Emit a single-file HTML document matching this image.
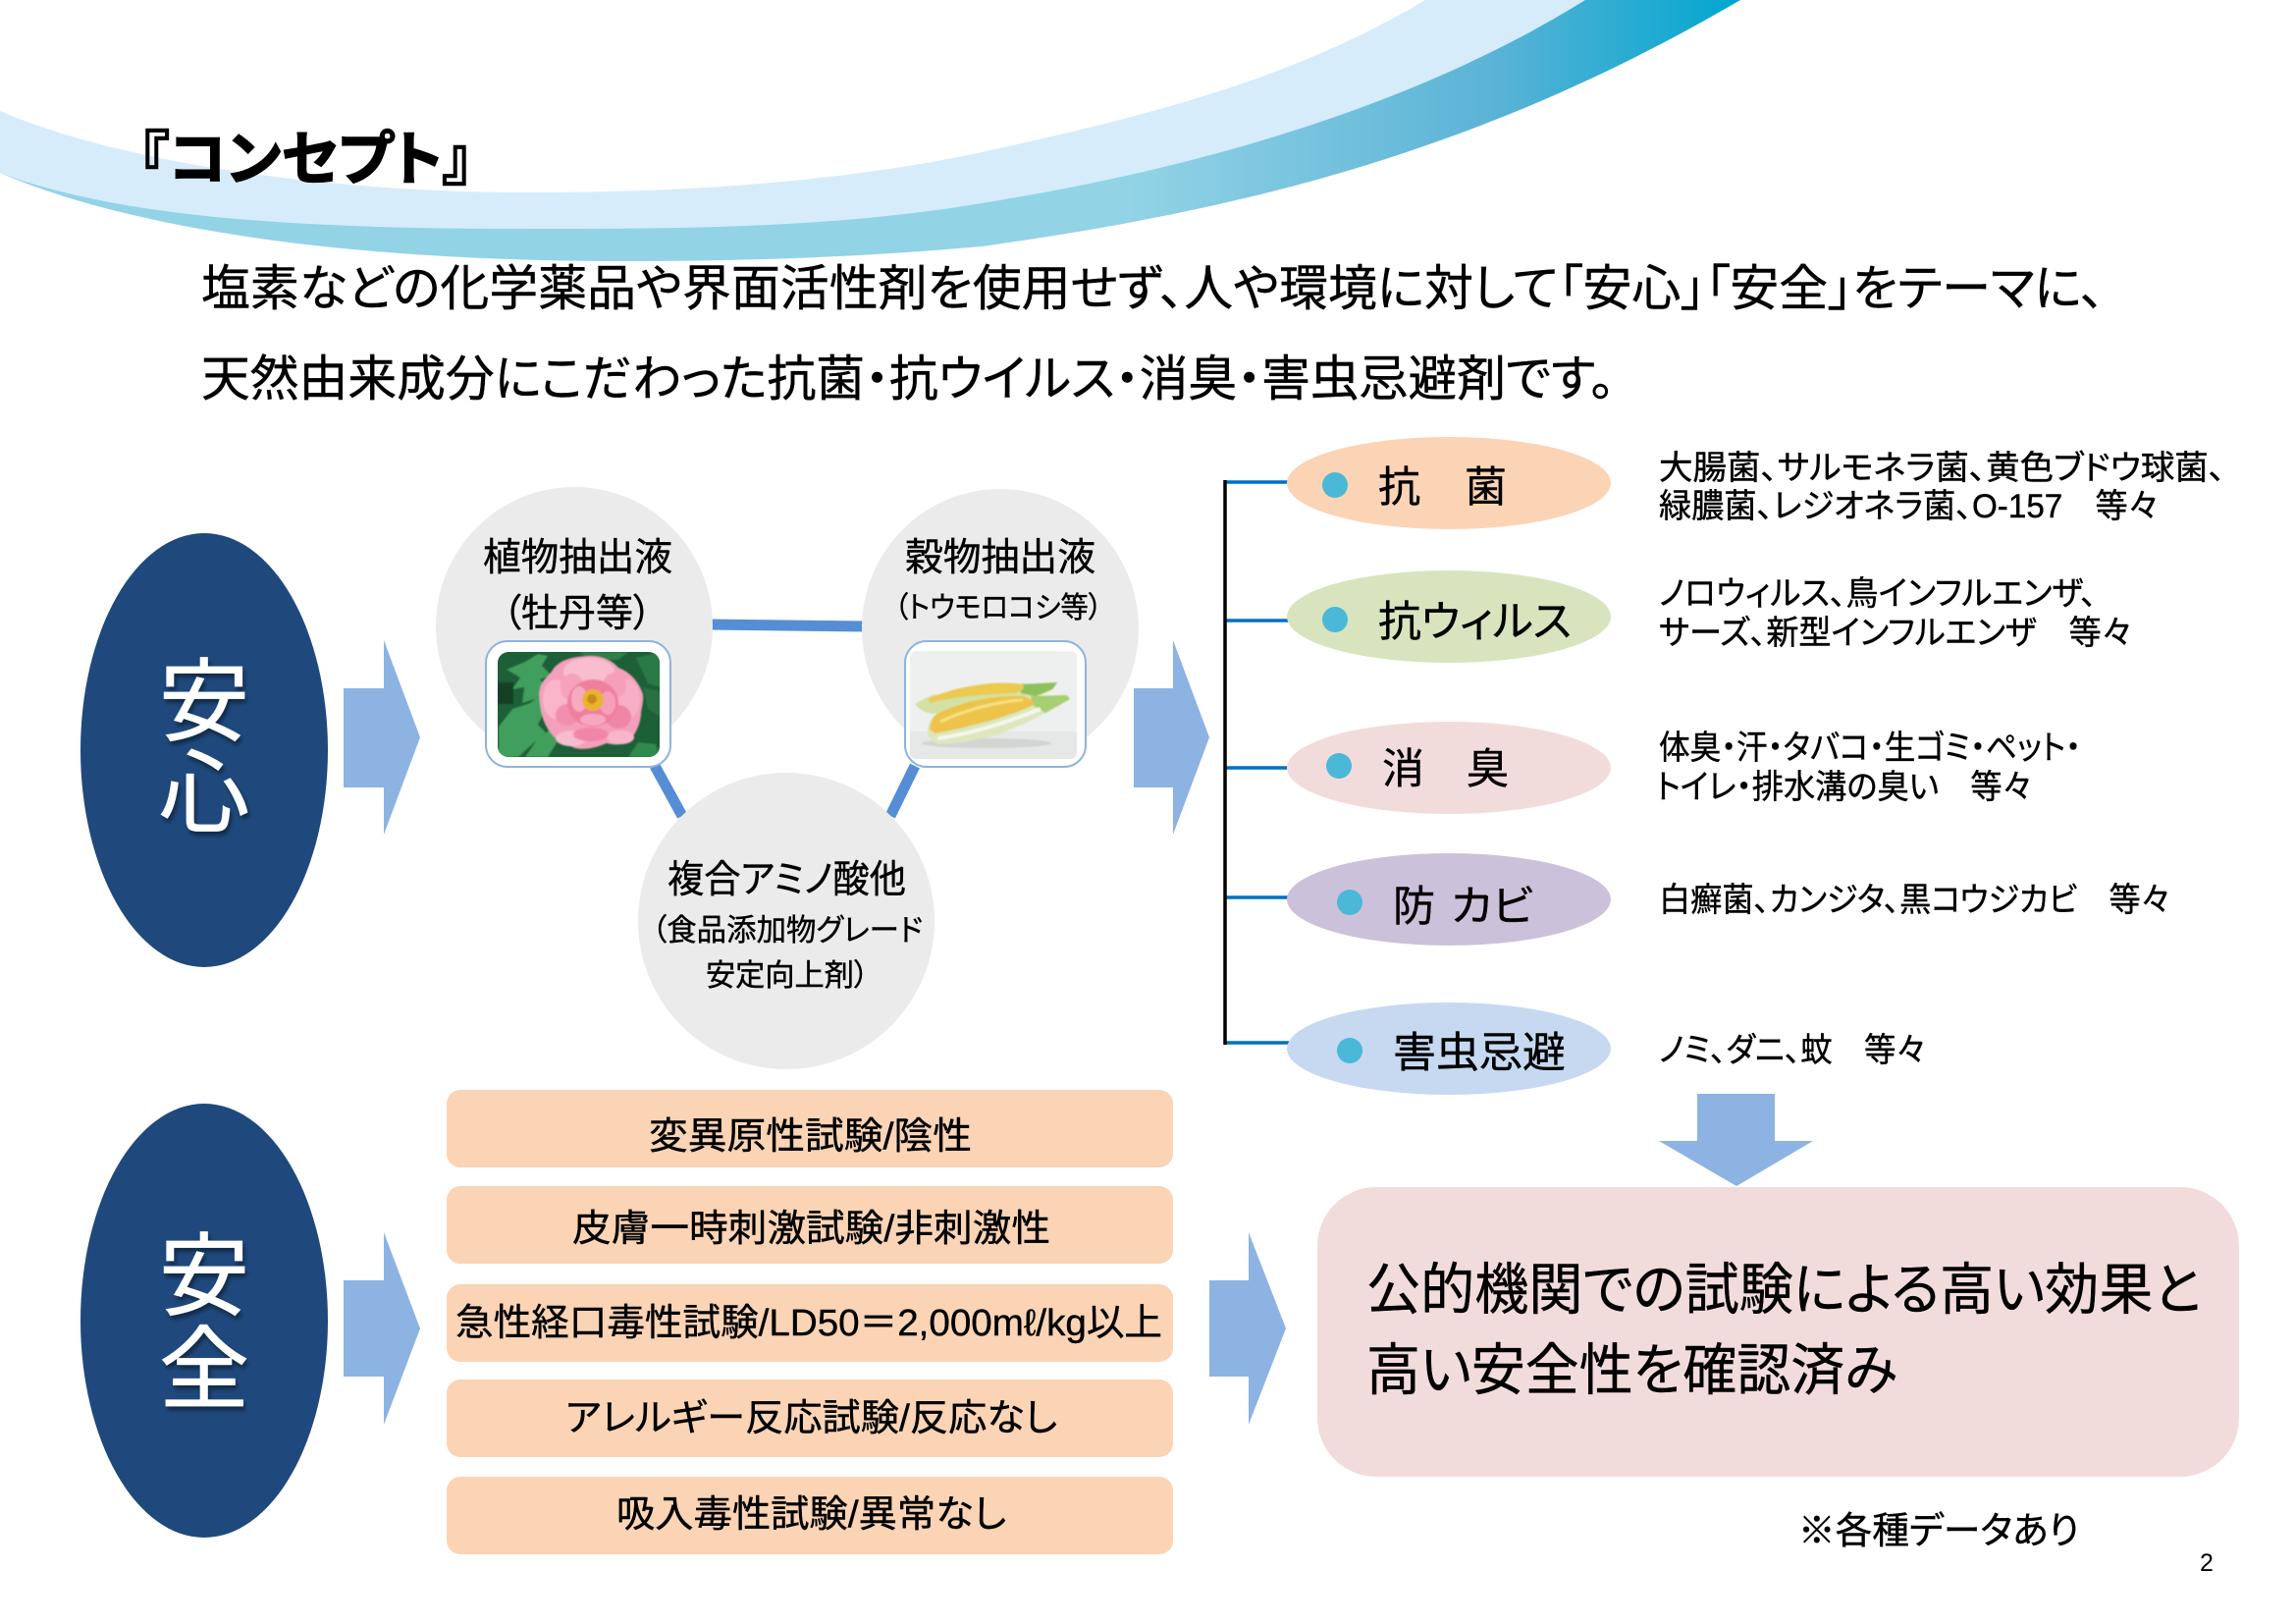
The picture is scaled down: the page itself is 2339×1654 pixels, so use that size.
<!DOCTYPE html>
<html lang="ja">
<head>
<meta charset="utf-8">
<title>コンセプト</title>
<style>
html,body{margin:0;padding:0;background:#fff;width:2339px;height:1654px;overflow:hidden}
svg{display:block}
text{font-family:"Liberation Sans","Noto Sans CJK JP",sans-serif;fill:#000;stroke:#000;stroke-width:.4;font-feature-settings:"palt"}
.w{fill:#fff;stroke:#fff;stroke-width:.8}
</style>
</head>
<body>
<svg width="2339" height="1654" viewBox="0 0 2339 1654" xmlns="http://www.w3.org/2000/svg">
<defs>
<linearGradient id="sw" gradientUnits="userSpaceOnUse" x1="1150" y1="0" x2="1773" y2="0">
<stop offset="0" stop-color="#93d3e6"/><stop offset="0.6" stop-color="#5ab3d6"/><stop offset="1" stop-color="#00a6cf"/>
</linearGradient>
<clipPath id="p1"><rect x="507" y="664" width="165" height="107" rx="11"/></clipPath>
<clipPath id="p2"><rect x="927" y="663" width="170" height="110" rx="6"/></clipPath>
<filter id="b1" x="-10%" y="-10%" width="120%" height="120%"><feGaussianBlur stdDeviation="0.9"/></filter>
<filter id="ts" x="-30%" y="-30%" width="160%" height="160%"><feDropShadow dx="2" dy="4" stdDeviation="2.5" flood-color="#000" flood-opacity="0.45"/></filter>
</defs>

<!-- swoosh -->
<path d="M0,176 C120,228 330,266 638,266 C780,266 900,260 1000,251 C1250,216 1500,160 1773,0 L1550,0 C1400,90 1200,150 1000,180 C800,215 700,215 542,215 C330,215 130,205 0,176 Z" fill="url(#sw)"/>
<path d="M0,113 C120,165 330,196 542,196 C700,196 860,185 1000,155 C1150,122 1310,85 1452,0 L1615,0 C1430,115 1200,175 1000,207 C850,232 700,233 542,233 C330,233 130,225 0,176 Z" fill="#d6ecfa"/>

<!-- title -->
<text x="142" y="183" font-size="60" font-weight="700" textLength="339" lengthAdjust="spacingAndGlyphs" style="stroke-width:1.4">『コンセプト』</text>

<!-- intro -->
<text x="205" y="311" font-size="50" textLength="1939" lengthAdjust="spacingAndGlyphs">塩素などの化学薬品や界面活性剤を使用せず、人や環境に対して「安心」「安全」をテーマに、</text>
<text x="205" y="403" font-size="50" textLength="1440" lengthAdjust="spacingAndGlyphs">天然由来成分にこだわった抗菌・抗ウイルス・消臭・害虫忌避剤です。</text>

<!-- blue ellipses -->
<ellipse cx="208" cy="764" rx="126" ry="221" fill="#1f497d"/>
<ellipse cx="208" cy="1345" rx="126" ry="221" fill="#1f497d"/>
<g filter="url(#ts)">
<text class="w" x="208" y="747" font-size="92" text-anchor="middle">安</text>
<text class="w" x="208" y="840" font-size="92" text-anchor="middle">心</text>
<text class="w" x="208" y="1332" font-size="92" text-anchor="middle">安</text>
<text class="w" x="208" y="1427" font-size="92" text-anchor="middle">全</text>
</g>

<!-- arrows -->
<g fill="#8db3e2">
<polygon points="350,701 391,701 391,652 428,751 391,850 391,802 350,802"/>
<polygon points="1155,701 1195,701 1195,652 1232,751 1195,850 1195,802 1155,802"/>
<polygon points="350,1304 391,1304 391,1255 428,1353 391,1451 391,1402 350,1402"/>
<polygon points="1232,1304 1272,1304 1272,1255 1310,1353 1272,1451 1272,1402 1232,1402"/>
<polygon points="1729,1114 1808,1114 1808,1162 1847,1162 1769,1208 1690,1162 1729,1162"/>
</g>

<!-- connectors -->
<g stroke="#558ed5" fill="none">
<line x1="722" y1="636" x2="882" y2="638" stroke-width="11"/>
<line x1="667" y1="780" x2="695" y2="831" stroke-width="11"/>
<line x1="932" y1="780" x2="907" y2="831" stroke-width="11"/>
</g>

<!-- gray circles -->
<g fill="#ebebeb">
<ellipse cx="585" cy="638" rx="141" ry="142"/>
<ellipse cx="1019" cy="640" rx="141" ry="142"/>
<ellipse cx="801" cy="938" rx="151" ry="151"/>
</g>

<text x="492" y="581" font-size="39" textLength="193" lengthAdjust="spacingAndGlyphs">植物抽出液</text>
<text x="512" y="638" font-size="39" textLength="152" lengthAdjust="spacingAndGlyphs">（牡丹等）</text>
<text x="922" y="581" font-size="39" textLength="194" lengthAdjust="spacingAndGlyphs">穀物抽出液</text>
<text x="911" y="629" font-size="30" textLength="212" lengthAdjust="spacingAndGlyphs">（トウモロコシ等）</text>
<text x="680" y="909" font-size="39" textLength="243" lengthAdjust="spacingAndGlyphs">複合アミノ酸他</text>
<text x="664" y="958" font-size="31" textLength="276" lengthAdjust="spacingAndGlyphs">（食品添加物グレード</text>
<text x="719" y="1004" font-size="31" textLength="166" lengthAdjust="spacingAndGlyphs">安定向上剤）</text>

<!-- photo frames -->
<rect x="495" y="653" width="188" height="128" rx="22" fill="#fff" stroke="#8db3e2" stroke-width="2"/>
<rect x="922" y="653" width="184" height="128" rx="22" fill="#fff" stroke="#8db3e2" stroke-width="2"/>

<!-- peony photo -->
<g clip-path="url(#p1)">
<rect x="507" y="664" width="165" height="107" fill="#1d5f37"/>
<g filter="url(#b1)" fill="#3f9f5c">
<polygon points="516,682 535,674 548,666 558,668 552,678 562,688 550,692 558,700 545,712 532,716 534,700 522,702 530,690"/>
<polygon points="508,740 522,722 540,716 552,706 556,722 548,738 556,746 540,760 528,771 508,771"/>
<polygon points="535,771 548,752 562,742 574,738 570,752 558,771"/>
<polygon points="640,771 650,756 668,758 672,771" fill="#2f8a4e"/>
<polygon points="648,670 672,664 672,700 660,696" fill="#2b7a46"/>
<polygon points="655,700 672,704 672,730 660,722" fill="#2a6f42"/>
<rect x="507" y="695" width="16" height="22" fill="#173f26"/>
<polygon points="590,664 640,664 630,672 600,672" fill="#2f7f49"/>
</g>
<g filter="url(#b1)">
<path d="M549,707 C550,695 555,692 562,684 C568,672 585,668 603,668 C615,668 625,674 630,680 C640,684 650,692 655,707 C656,716 653,722 653,728 C652,738 648,745 645,750 C640,758 630,760 618,757 C606,762 596,764 586,762 C576,758 566,754 562,748 C556,740 550,730 549,707 Z" fill="#f4a0bb"/>
<ellipse cx="600" cy="684" rx="26" ry="14" fill="#f9bdd0"/>
<ellipse cx="566" cy="712" rx="13" ry="20" fill="#f9b6cb"/>
<ellipse cx="640" cy="712" rx="12" ry="20" fill="#f7aec6"/>
<ellipse cx="582" cy="752" rx="16" ry="8" fill="#f8bccf"/>
<ellipse cx="632" cy="751" rx="14" ry="7" fill="#f8b6cb"/>
<ellipse cx="602" cy="748" rx="18" ry="7" fill="#f286a6"/>
<ellipse cx="583" cy="700" rx="12" ry="14" fill="#f6a2bc"/>
<ellipse cx="626" cy="698" rx="12" ry="13" fill="#f5a0ba"/>
<ellipse cx="578" cy="728" rx="12" ry="11" fill="#f28fae"/>
<ellipse cx="630" cy="730" rx="13" ry="12" fill="#ef86a6"/>
<ellipse cx="604" cy="716" rx="26" ry="24" fill="#ef7f9f"/>
<ellipse cx="590" cy="712" rx="8" ry="13" fill="#f7aac2"/>
<ellipse cx="619" cy="716" rx="8" ry="12" fill="#f5a0ba"/>
<ellipse cx="604" cy="733" rx="13" ry="6" fill="#f6a8c1"/>
<ellipse cx="604" cy="713" rx="11" ry="11" fill="#eab32e"/>
<ellipse cx="603" cy="712" rx="5" ry="5" fill="#c98a1c"/>
</g>
</g>

<!-- corn photo -->
<g clip-path="url(#p2)">
<rect x="927" y="663" width="170" height="110" fill="#eef0f0"/>
<rect x="927" y="745" width="170" height="28" fill="#e6e8e8"/>
<g filter="url(#b1)">
<ellipse cx="1005" cy="757" rx="66" ry="5" fill="#d2d5d2"/>
<path d="M932,717 C940,712 945,710 950,708 L1042,696 C1055,697 1065,697 1077,695 L1073,702 L1060,708 C1030,715 980,725 950,727 C942,726 936,722 932,717 Z" fill="#d2e2a6"/>
<path d="M1040,697 L1077,695 L1072,702 L1055,709 L1040,706 Z" fill="#8cc05a"/>
<path d="M945,712 C970,700 1015,692 1042,697 C1045,702 1040,705 1030,706 L1000,708 C980,710 960,712 948,716 Z" fill="#ecc94f"/>
<path d="M945,747 C944,740 948,732 953,728 C975,715 1015,707 1043,709 L1087,709 L1090,712 C1070,725 1045,737 1020,747 C1000,753 975,758 955,758 C950,755 946,752 945,747 Z" fill="#dce7bd"/>
<path d="M1050,709 L1087,708 L1090,712 L1065,726 L1052,718 Z" fill="#a5cf72"/>
<path d="M947,743 C948,735 950,731 953,728 C975,715 1015,707 1043,709 C1052,712 1054,715 1053,718 C1035,727 1000,738 953,747 Z" fill="#edc44a"/>
<path d="M958,735 C985,722 1020,714 1042,713" stroke="#f7df85" stroke-width="3" fill="none"/>
<path d="M955,752 C985,748 1020,738 1060,722" stroke="#f6f7ec" stroke-width="4" fill="none"/>
</g>
</g>

<!-- tree lines -->
<g stroke="#0070c0" stroke-width="3.5" fill="none">
<line x1="1248" y1="491" x2="1315" y2="491"/>
<line x1="1248" y1="632" x2="1315" y2="632"/>
<line x1="1248" y1="782" x2="1315" y2="782"/>
<line x1="1248" y1="914" x2="1315" y2="914"/>
<line x1="1248" y1="1062" x2="1315" y2="1062"/>
</g>
<line x1="1248" y1="489" x2="1248" y2="1064" stroke="#000" stroke-width="3.5"/>

<!-- ovals -->
<ellipse cx="1476" cy="492" rx="165" ry="47" fill="#fbd4b5"/>
<ellipse cx="1476" cy="628" rx="165" ry="47" fill="#d7e4bd"/>
<ellipse cx="1476" cy="782" rx="165" ry="47" fill="#f2dcdb"/>
<ellipse cx="1476" cy="916" rx="165" ry="47" fill="#ccc1da"/>
<ellipse cx="1476" cy="1068" rx="165" ry="47" fill="#c6d9f1"/>
<g fill="#4bb8d7">
<ellipse cx="1360" cy="494" rx="13" ry="13"/>
<ellipse cx="1360" cy="631" rx="13" ry="13"/>
<ellipse cx="1364" cy="780" rx="13" ry="13"/>
<ellipse cx="1375" cy="919" rx="13" ry="13"/>
<ellipse cx="1375" cy="1070" rx="13" ry="13"/>
</g>
<text x="1404" y="511" font-size="43">抗</text>
<text x="1492" y="511" font-size="43">菌</text>
<text x="1404" y="648" font-size="43" textLength="197" lengthAdjust="spacingAndGlyphs">抗ウィルス</text>
<text x="1408" y="798" font-size="43">消</text>
<text x="1494" y="798" font-size="43">臭</text>
<text x="1419" y="938" font-size="43">防</text>
<text x="1478" y="938" font-size="43" textLength="84" lengthAdjust="spacingAndGlyphs">カビ</text>
<text x="1419" y="1087" font-size="43" textLength="176" lengthAdjust="spacingAndGlyphs">害虫忌避</text>

<!-- descriptions -->
<text x="1690" y="488" font-size="34" textLength="577" lengthAdjust="spacingAndGlyphs">大腸菌、サルモネラ菌、黄色ブドウ球菌、</text>
<text x="1690" y="527" font-size="34" textLength="509" lengthAdjust="spacingAndGlyphs">緑膿菌、レジオネラ菌、O-157　等々</text>
<text x="1690" y="616" font-size="34" textLength="446" lengthAdjust="spacingAndGlyphs">ノロウィルス、鳥インフルエンザ、</text>
<text x="1690" y="656" font-size="34" textLength="482" lengthAdjust="spacingAndGlyphs">サーズ、新型インフルエンザ　等々</text>
<text x="1690" y="773" font-size="34" textLength="430" lengthAdjust="spacingAndGlyphs">体臭・汗・タバコ・生ゴミ・ペット・</text>
<text x="1687" y="813" font-size="34" textLength="383" lengthAdjust="spacingAndGlyphs">トイレ・排水溝の臭い　等々</text>
<text x="1690" y="928" font-size="34" textLength="521" lengthAdjust="spacingAndGlyphs">白癬菌、カンジタ、黒コウジカビ　等々</text>
<text x="1690" y="1081" font-size="34" textLength="272" lengthAdjust="spacingAndGlyphs">ノミ、ダニ、蚊　等々</text>

<!-- test boxes -->
<g fill="#fad4b4">
<rect x="455" y="1110" width="740" height="79" rx="14"/>
<rect x="455" y="1208" width="740" height="79" rx="14"/>
<rect x="455" y="1308" width="740" height="79" rx="14"/>
<rect x="455" y="1405" width="740" height="79" rx="14"/>
<rect x="455" y="1504" width="740" height="79" rx="14"/>
</g>
<text x="661" y="1170" font-size="38" textLength="329" lengthAdjust="spacingAndGlyphs">変異原性試験/陰性</text>
<text x="583" y="1264" font-size="38" textLength="487" lengthAdjust="spacingAndGlyphs">皮膚一時刺激試験/非刺激性</text>
<text x="464" y="1360" font-size="38" textLength="720" lengthAdjust="spacingAndGlyphs">急性経口毒性試験/LD50＝2,000mℓ/kg以上</text>
<text x="576" y="1457" font-size="38" textLength="501" lengthAdjust="spacingAndGlyphs">アレルギー反応試験/反応なし</text>
<text x="628" y="1555" font-size="38" textLength="397" lengthAdjust="spacingAndGlyphs">吸入毒性試験/異常なし</text>

<!-- result box -->
<rect x="1342" y="1209" width="939" height="295" rx="60" fill="#f2dcdb"/>
<text x="1392" y="1333" font-size="57" textLength="850" lengthAdjust="spacingAndGlyphs">公的機関での試験による高い効果と</text>
<text x="1392" y="1415" font-size="57" textLength="541" lengthAdjust="spacingAndGlyphs">高い安全性を確認済み</text>

<text x="1832" y="1572" font-size="38" textLength="286" lengthAdjust="spacingAndGlyphs">※各種データあり</text>
<text x="2241" y="1600" font-size="25" style="stroke-width:0">2</text>
</svg>
</body>
</html>
